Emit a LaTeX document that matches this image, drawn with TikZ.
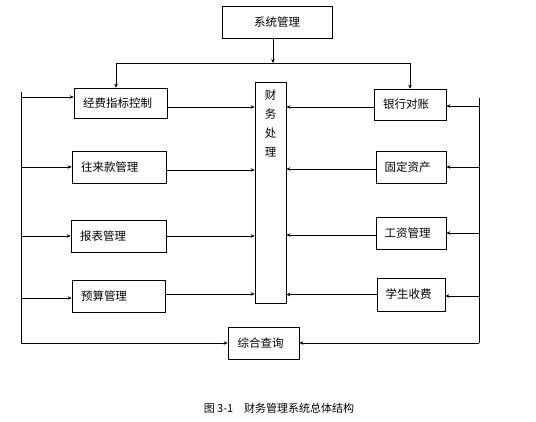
\documentclass[tikz,border=0pt]{standalone}
\usepackage{fontspec}
\setmainfont{Noto Sans CJK SC}
\usetikzlibrary{arrows.meta}

\begin{document}
\begin{tikzpicture}[x=1pt, y=-1pt,
    box/.style={draw, line width=0.6pt, inner ysep=0pt, inner xsep=9pt, align=left,
      font=\fontsize{11.5}{13}\selectfont},
    link/.style={line width=0.6pt, -{Stealth[length=4pt, width=3.5pt]}},
    bus/.style={line width=0.6pt}]
    \useasboundingbox (0,0) rectangle (536,422);

    \node[box, inner xsep=0pt, align=center, minimum width=110pt, minimum height=32pt] (xt) at (277,22) {系统管理};

    \node[box, text width=75pt, minimum height=30pt] (jf) at (120.5,103) {经费指标控制};
    \node[box, text width=76pt, minimum height=32pt] (wl) at (119,167) {往来款管理};
    \node[box, text width=77pt, minimum height=32pt] (bb) at (118.5,236) {报表管理};
    \node[box, text width=75pt, minimum height=32pt] (ys) at (118.5,296) {预算管理};

    \node[box, text width=54pt, minimum height=31pt] (yh) at (410,104.5) {银行对账};
    \node[box, text width=53pt, inner xsep=8.5pt, minimum height=32pt] (gd) at (411,167) {固定资产};
    \node[box, text width=53pt, inner xsep=8.5pt, minimum height=32pt] (gz) at (411,233) {工资管理};
    \node[box, text width=51pt, inner xsep=8.5pt, minimum height=33pt] (xs) at (411,294.5) {学生收费};

    \node[box, minimum width=31pt, minimum height=221pt] (cw) at (270.5,192.5) {};
    \node[anchor=north, align=center, inner sep=0pt,
      font=\fontsize{11.5}{19}\selectfont] (cwt) at (cw.north) [yshift=-8pt] {财\\务\\处\\理};

    \node[box, text width=52pt, inner xsep=9.5pt, minimum height=32pt] (zh) at (263.5,343) {综合查询};

    \node[font=\fontsize{11}{13}\selectfont] (cap) at (279,408) {图 3-1\quad 财务管理系统总体结构};

    \coordinate (tl) at (116,63);
    \coordinate (tr) at (410,63);
    \coordinate (lt) at (21,92);
    \coordinate (lb) at (21,343);
    \coordinate (rt) at (479,98);
    \coordinate (rb) at (479,343);

    % top
    \draw[link] (xt.south -| 273,0) -- (tl -| 273,0);
    \draw[bus] (tl) -- (tr);
    \draw[link] (tl) -- (tl |- jf.north);
    \draw[link] (tr) -- (yh.north);

    % left side
    \draw[bus] (lt) -- (lb);
    \draw[link] ([yshift=6pt]lt |- jf.west) -- ([yshift=6pt]jf.west);
    \draw[link] (lt |- wl.west) -- (wl.west);
    \draw[link] (lt |- bb.west) -- (bb.west);
    \draw[link] ([yshift=-2pt]lt |- ys.west) -- ([yshift=-2pt]ys.west);
    \draw[link] (lb) -- (zh.west);

    \draw[link] ([yshift=-4pt]jf.east) -- ([yshift=-4pt]jf.east -| cw.west);
    \draw[link] ([yshift=-3pt]wl.east) -- ([yshift=-3pt]wl.east -| cw.west);
    \draw[link] (bb.east) -- (bb.east -| cw.west);
    \draw[link] ([yshift=2pt]ys.east) -- ([yshift=2pt]ys.east -| cw.west);

    % right side
    \draw[bus] (rt) -- (rb);
    \draw[link] ([yshift=-1.5pt]rt |- yh.east) -- ([yshift=-1.5pt]yh.east);
    \draw[link] (rt |- gd.east) -- (gd.east);
    \draw[link] (rt |- gz.east) -- (gz.east);
    \draw[link] ([yshift=-1.5pt]rt |- xs.east) -- ([yshift=-1.5pt]xs.east);
    \draw[link] (rb) -- (zh.east);

    \draw[link] ([yshift=-2.5pt]yh.west) -- ([yshift=-2.5pt]yh.west -| cw.east);
    \draw[link] ([yshift=-2pt]gd.west) -- ([yshift=-2pt]gd.west -| cw.east);
    \draw[link] ([yshift=-2pt]gz.west) -- ([yshift=-2pt]gz.west -| cw.east);
    \draw[link] (xs.west) -- (xs.west -| cw.east);
\end{tikzpicture}
\end{document}
